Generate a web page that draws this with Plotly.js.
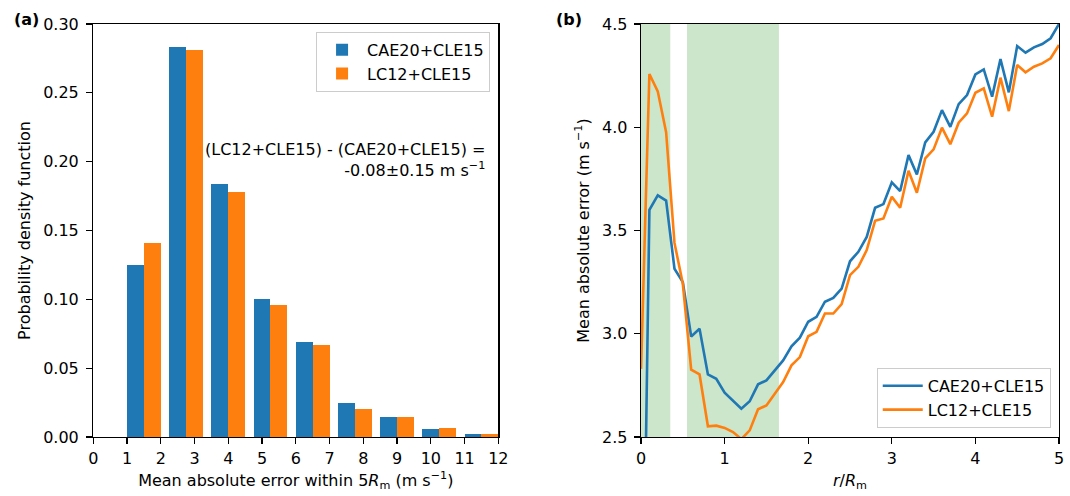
<!DOCTYPE html>
<html>
<head>
<meta charset="utf-8">
<script src="https://cdn.plot.ly/plotly-3.0.1.min.js"></script>
<style>html,body{margin:0;padding:0;background:#fff}#chart{width:1070px;height:496px}</style>
</head>
<body>
<div id="chart"></div>
<script>
// ---- Panel (a): PDF of mean absolute error within 5Rm ----
const binCenters = [1.5, 2.75, 4.0, 5.25, 6.5, 7.75, 9.0, 10.25, 11.5];
const pdfCAE20 = [0.125, 0.283, 0.1835, 0.100, 0.0688, 0.025, 0.0145, 0.0056, 0.0025];
const pdfLC12  = [0.141, 0.281, 0.178, 0.096, 0.067, 0.0206, 0.0145, 0.0068, 0.0025];
const xTicksA = [0,1,2,3,4,5,6,7,8,9,10,11,12];

// ---- Panel (b): radial profile of mean absolute error ----
const rRatio = [0.0,0.1,0.2,0.3,0.4,0.5,0.6,0.7,0.8,0.9,
                1.0,1.1,1.2,1.3,1.4,1.5,1.6,1.7,1.8,1.9,
                2.0,2.1,2.2,2.3,2.4,2.5,2.6,2.7,2.8,2.9,
                3.0,3.1,3.2,3.3,3.4,3.5,3.6,3.7,3.8,3.9,
                4.0,4.1,4.2,4.3,4.4,4.5,4.6,4.7,4.8,4.9,5.0];
const maeCAE20 = [0.85,3.60,3.67,3.645,3.315,3.25,2.987,3.024,2.803,2.782,
                  2.715,2.674,2.637,2.673,2.755,2.774,2.823,2.871,2.939,2.981,
                  3.058,3.082,3.155,3.174,3.219,3.351,3.397,3.469,3.610,3.628,
                  3.733,3.691,3.865,3.771,3.927,3.978,4.083,4.002,4.112,4.156,
                  4.256,4.280,4.148,4.330,4.169,4.393,4.361,4.387,4.403,4.431,4.50];
const maeLC12 = [2.83,4.258,4.174,3.976,3.44,3.242,2.826,2.803,2.552,2.555,
                 2.544,2.524,2.49,2.532,2.634,2.653,2.71,2.766,2.847,2.887,
                 2.988,3.009,3.098,3.098,3.143,3.284,3.324,3.405,3.547,3.558,
                 3.663,3.610,3.789,3.683,3.849,3.893,3.998,3.918,4.022,4.067,
                 4.167,4.188,4.051,4.240,4.078,4.301,4.266,4.293,4.309,4.334,4.398];
const shadedRanges = [[0.0, 0.35], [0.55, 1.65]];

const seriesNames = ['CAE20+CLE15', 'LC12+CLE15'];
const blue = '#1f77b4', orange = '#ff7f0e';
const FONT = 'DejaVu Sans, Liberation Sans, sans-serif';

const traces = [
  {type:'bar', x: binCenters, y: pdfCAE20, name: seriesNames[0], width: 0.5, offset: -0.5,
   marker:{color: blue, line:{width:0}}, xaxis:'x', yaxis:'y', legend:'legend'},
  {type:'bar', x: binCenters, y: pdfLC12, name: seriesNames[1], width: 0.5, offset: 0,
   marker:{color: orange, line:{width:0}}, xaxis:'x', yaxis:'y', legend:'legend'},
  {type:'scatter', mode:'lines', x: rRatio, y: maeCAE20, name: seriesNames[0],
   line:{color: blue, width: 2.6}, xaxis:'x2', yaxis:'y2', legend:'legend2'},
  {type:'scatter', mode:'lines', x: rRatio, y: maeLC12, name: seriesNames[1],
   line:{color: orange, width: 2.6}, xaxis:'x2', yaxis:'y2', legend:'legend2'}
];

const axisCommon = {
  showline: true, mirror: true, linecolor: '#000', linewidth: 1.3,
  ticks: 'outside', ticklen: 6, tickwidth: 1.3, tickcolor: '#000',
  showgrid: false, zeroline: false,
  tickfont: {family: FONT, size: 16, color: '#000'}
};

const shapes = shadedRanges.map(r => ({
  type:'rect', xref:'x2', yref:'y2 domain', x0: r[0], x1: r[1], y0: 0, y1: 1,
  fillcolor:'#cce6cc', line:{width:0}, layer:'below'
}));

const layout = {
  width: 1070, height: 496,
  margin: {l:0, r:0, t:24, b:59},
  paper_bgcolor:'#fff', plot_bgcolor:'#fff',
  font: {family: FONT, size: 16, color: '#000'},
  showlegend: true,
  bargap: 0, bargroupgap: 0,
  xaxis: Object.assign({}, axisCommon, {
    domain: [0.0872, 0.4657], range: [0, 12], tickvals: xTicksA, anchor: 'y',
    title: {text: 'Mean absolute error within 5<i>R</i><sub>m</sub> (m s<sup>−1</sup>)',
            font: {family: FONT, size: 16}, standoff: 8}
  }),
  yaxis: Object.assign({}, axisCommon, {
    domain: [0, 1], range: [0, 0.30], dtick: 0.05, tick0: 0, tickformat: '.2f', anchor: 'x',
    ticklabelstandoff: 4,
    title: {text: 'Probability density function', font: {family: FONT, size: 16}, standoff: 8}
  }),
  xaxis2: Object.assign({}, axisCommon, {
    domain: [0.5991, 0.9897], range: [0, 5], dtick: 1, tick0: 0, anchor: 'y2',
    title: {text: '<i>r</i>/<i>R</i><sub>m</sub>', font: {family: FONT, size: 16}, standoff: 8}
  }),
  yaxis2: Object.assign({}, axisCommon, {
    domain: [0, 1], range: [2.5, 4.5], dtick: 0.5, tick0: 2.5, tickformat: '.1f', anchor: 'x2',
    ticklabelstandoff: 3,
    title: {text: 'Mean absolute error (m s<sup>−1</sup>)', font: {family: FONT, size: 16}, standoff: 8}
  }),
  legend: {
    x: 0.458, xanchor: 'right', y: 0.981, yanchor: 'top', itemwidth: 40,
    bgcolor: 'rgba(255,255,255,0.8)', bordercolor: '#cccccc', borderwidth: 1,
    font: {family: FONT, size: 16}
  },
  legend2: {
    x: 0.982, xanchor: 'right', y: 0.022, yanchor: 'bottom', itemwidth: 40,
    bgcolor: 'rgba(255,255,255,0.8)', bordercolor: '#cccccc', borderwidth: 1,
    font: {family: FONT, size: 16}
  },
  shapes: shapes,
  annotations: [
    {xref:'paper', yref:'paper', x: 12/1070, y: 1.0097, xanchor:'left', yanchor:'middle',
     text:'<b>(a)</b>', showarrow:false, font:{family: FONT, size: 16}},
    {xref:'paper', yref:'paper', x: 554/1070, y: 1.0097, xanchor:'left', yanchor:'middle',
     text:'<b>(b)</b>', showarrow:false, font:{family: FONT, size: 16}},
    {xref:'x', yref:'y', x: 11.67, y: 0.201, xanchor:'right', yanchor:'middle', align:'right',
     text:'(LC12+CLE15) - (CAE20+CLE15) =<br>-0.08±0.15 m s<sup>−1</sup>', showarrow:false,
     font:{family: FONT, size: 16}}
  ]
};

Plotly.newPlot('chart', traces, layout, {displayModeBar: false, staticPlot: true});
</script>
</body>
</html>
